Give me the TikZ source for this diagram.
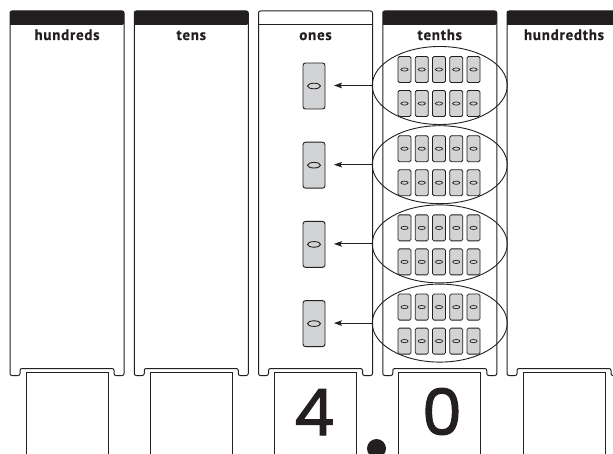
\documentclass[tikz,border=0pt]{standalone}
\usepackage{fontspec}
\usetikzlibrary{shapes.geometric,arrows.meta}
\newfontfamily\hdfont[LetterSpace=5,BoldFeatures={FakeBold=0.6}]{PT Sans}
\newfontfamily\digfont[FakeBold=1.6]{Poppins}
\definecolor{ink}{RGB}{35,31,32}
\definecolor{chipgray}{RGB}{209,211,212}
\begin{document}
\begin{tikzpicture}[x=1pt,y=-1pt,
  colline/.style={draw=ink,line width=1pt,rounded corners=2pt},
  headtxt/.style={anchor=base,inner sep=0pt,text=ink,font=\hdfont\bfseries\fontsize{15}{16}\selectfont},
  digbox/.style={draw=ink,line width=1pt},
  digtxt/.style={anchor=base,inner sep=0pt,text=ink,font=\digfont\fontsize{64}{64}\selectfont},
  onechip/.style={draw=ink,fill=chipgray,line width=0.9pt,rounded corners=2.5pt,minimum width=22pt,minimum height=46pt,inner sep=0pt},
  tenchip/.style={draw=ink,fill=chipgray,line width=0.8pt,rounded corners=1.5pt,minimum width=13pt,minimum height=26pt,inner sep=0pt},
  group/.style={draw=ink,line width=0.9pt,ellipse,minimum width=135pt,minimum height=78pt,inner sep=0pt},
  arr/.style={draw=ink,line width=0.9pt,-{Stealth[length=8pt,width=5.5pt,inset=1.5pt]},shorten >=8.5pt}
]
\useasboundingbox (0,0) rectangle (613,454);
\clip (0,0) rectangle (613,454);
\fill[white] (0,0) rectangle (613,454);

% columns
\foreach \i/\name in {0/hundreds,1/tens,2/ones,3/tenths,4/hundredths}{
  \pgfmathsetmacro{\L}{10+124.25*\i}
  \pgfmathsetmacro{\R}{\L+114}
  \ifnum\i=2
    \draw[ink,line width=1pt] (\L,25) -- (\R,25);
  \else
    \fill[ink,rounded corners=2pt] (\L,25) |- (\L+57,11) -| (\R,25) [sharp corners] -- cycle;
  \fi
  \draw[colline] (\L,375.5) -- (\L,11) -- (\R,11) -- (\R,375.5) -- (\R-10,375.5) -- (\R-10,368.5) -- (\L+10,368.5) -- (\L+10,375.5) -- cycle;
  \node[headtxt] (h\i) at (\L+57,40) {\name};
  \draw[digbox] (\L+16,470) -- (\L+16,372.5) -- (\R-16,372.5) -- (\R-16,470);
}

% groups
\foreach \k in {0,1,2,3}{
  \pgfmathsetmacro{\c}{85.5+79.2*\k}
  \node[group] (g\k) at (439.75,\c) {};
  \node[onechip] (o\k) at (314,\c+0.5) {};
  \draw[ink,line width=0.9pt] (o\k.center) ellipse [x radius=6.5pt,y radius=2.8pt];
  \foreach \r/\dy in {0/-16,1/18}{
    \foreach \j in {0,...,4}{
      \node[tenchip] (t\k\r\j) at (404.5+17.25*\j,\c+\dy) {};
      \draw[ink,line width=0.7pt] (t\k\r\j.center) ellipse [x radius=3.6pt,y radius=1.6pt];
    }
  }
  \draw[arr] (g\k.west) -- (g\k.west -| o\k.east);
}

% digits
\node[digtxt] (d1) at (314,435) {4};
\node[digtxt] (d2) at (442,435) {0};
\node[circle,fill=ink,minimum size=19pt,inner sep=0pt] (pt) at (376.5,448.5) {};
\end{tikzpicture}
\end{document}
